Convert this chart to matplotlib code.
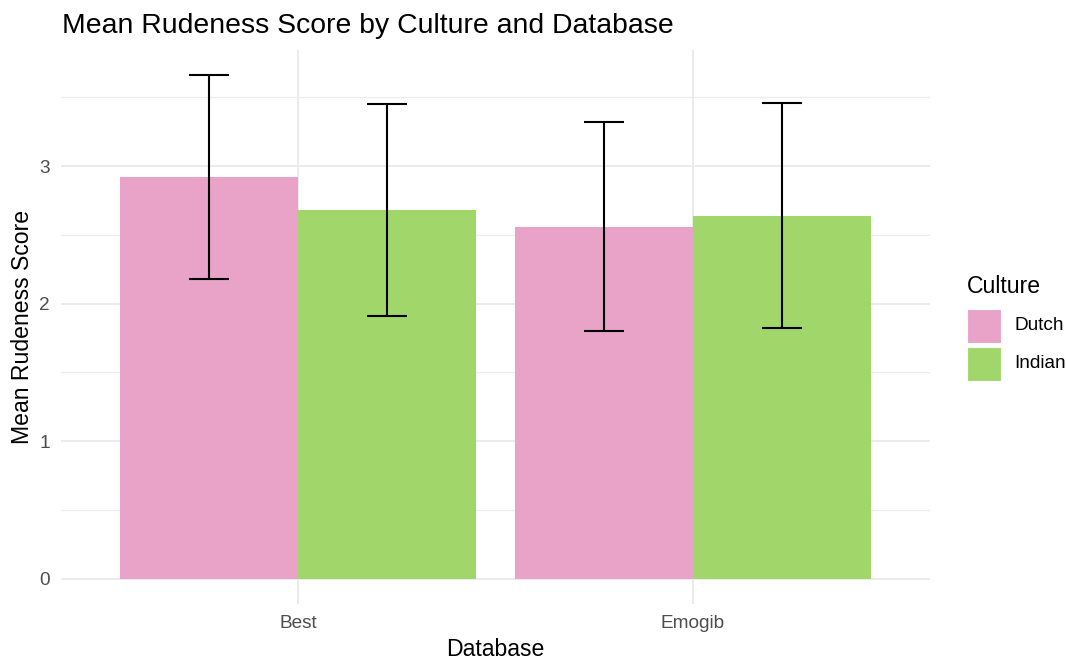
import matplotlib
matplotlib.use("Agg")
import matplotlib.pyplot as plt
import numpy as np
from matplotlib.patches import Rectangle
from matplotlib.ticker import MultipleLocator

# Data
databases = ["Best", "Emogib"]
cultures = ["Dutch", "Indian"]
colors = ["#E9A3C9", "#A1D76A"]
dutch_mean = [2.92, 2.56]
dutch_sd = [0.74, 0.76]
indian_mean = [2.68, 2.64]
indian_sd = [0.77, 0.82]

means = [dutch_mean, indian_mean]
sds = [dutch_sd, indian_sd]

W, H, DPI = 1066, 662, 100
plt.rcParams["font.family"] = ["Liberation Sans", "DejaVu Sans"]

fig = plt.figure(figsize=(W / DPI, H / DPI), dpi=DPI)
ax = fig.add_axes([61 / W, 1 - 604 / H, (930 - 61) / W, (604 - 50) / H])

x = np.arange(1, len(databases) + 1)
bar_w = 0.45
cap_w = 0.1
offsets = [-bar_w / 2, bar_w / 2]

for i, cult in enumerate(cultures):
    m = np.array(means[i])
    s = np.array(sds[i])
    xp = x + offsets[i]
    ax.bar(xp, m, width=bar_w, color=colors[i], linewidth=0, zorder=2)
    ax.vlines(xp, m - s, m + s, color="black", linewidth=1.5, zorder=3)
    for lo_hi in (m - s, m + s):
        ax.hlines(lo_hi, xp - cap_w / 2, xp + cap_w / 2, color="black",
                  linewidth=1.5, zorder=3)

# Scales
all_top = max(np.max(np.array(means[i]) + np.array(sds[i])) for i in range(2))
pad = 0.05 * all_top
ax.set_ylim(-pad, all_top + pad)
ax.set_xlim(0.4, 2.6)
ax.set_xticks(x)
ax.set_xticklabels(databases)
ax.yaxis.set_major_locator(MultipleLocator(1))
ax.yaxis.set_minor_locator(MultipleLocator(0.5))

# Minimal theme
for sp in ax.spines.values():
    sp.set_visible(False)
ax.set_axisbelow(True)
ax.grid(True, which="major", axis="both", color="#EBEBEB", linewidth=1.4)
ax.grid(True, which="minor", axis="y", color="#EBEBEB", linewidth=0.8)
ax.tick_params(axis="both", which="both", length=0, labelsize=13.7,
               labelcolor="#4D4D4D")
ax.tick_params(axis="x", pad=8)
ax.tick_params(axis="y", pad=8)

ax.set_xlabel("Database", fontsize=16.6, color="black", labelpad=4)
ax.set_ylabel("Mean Rudeness Score", fontsize=16.6, color="black", labelpad=4)

fig.text(62 / W, 1 - 33 / H, "Mean Rudeness Score by Culture and Database",
         fontsize=20.4, color="black", ha="left", va="baseline")

# Legend
fig.text(967 / W, 1 - 293 / H, "Culture", fontsize=16.6, color="black",
         ha="left", va="baseline")
key = 34
tops = [309, 346.5]
for i, cult in enumerate(cultures):
    fig.add_artist(Rectangle((967 / W, 1 - (tops[i] + key) / H), key / W, key / H,
                             transform=fig.transFigure, facecolor=colors[i],
                             edgecolor="white", linewidth=0.8))
    fig.text(1014 / W, 1 - (tops[i] + key / 2) / H, cult, fontsize=13.7,
             color="black", ha="left", va="center")

fig.savefig("out.png", dpi=DPI)
